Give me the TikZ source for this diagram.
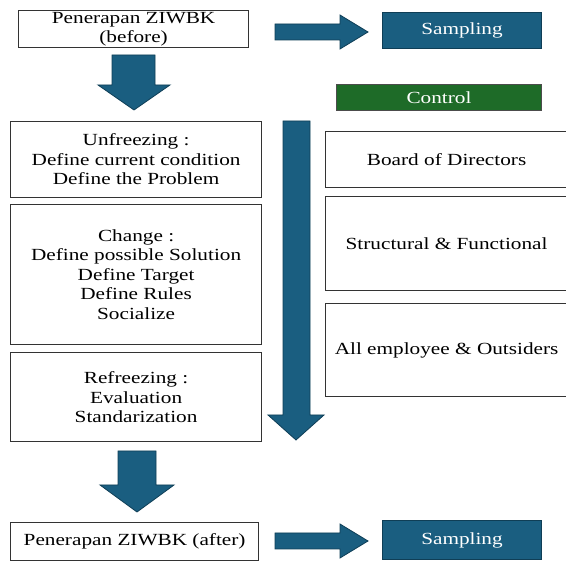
\documentclass[tikz,border=0pt]{standalone}
\usepackage{fontspec}
\setmainfont[FakeStretch=1.25]{Liberation Serif}
\definecolor{arrblue}{HTML}{1A5E80}
\definecolor{arredge}{HTML}{0F3E56}
\definecolor{ctrlgreen}{HTML}{1E6B28}
\definecolor{boxedge}{HTML}{333333}
\tikzset{
  box/.style={draw=boxedge, line width=1.2pt, fill=white, anchor=north west, inner sep=0pt, align=center, font=\fontsize{17}{19.5}\selectfont},
  bluebox/.style={draw=arredge, line width=1pt, fill=arrblue, text=white, anchor=north west, inner sep=0pt, align=center, font=\fontsize{17}{19.5}\selectfont},
  greenbox/.style={draw=black!70, line width=1pt, fill=ctrlgreen, text=white, anchor=north west, inner sep=0pt, align=center, font=\fontsize{17}{19.5}\selectfont},
  blockarrow/.style={draw=arredge, line width=0.8pt, fill=arrblue, line join=miter}
}
\begin{document}
\begin{tikzpicture}[x=1pt, y=-1pt]
\useasboundingbox (0,0) rectangle (566,561);
% boxes
\node[box, minimum width=230pt, minimum height=37pt] (before) at (18,10) {Penerapan ZIWBK\\(before)};
\node[bluebox, minimum width=159pt, minimum height=36pt] (samp1) at (382,12) {Sampling};
\node[greenbox, minimum width=205pt, minimum height=26pt] (ctrl) at (336,84) {Control};
\node[box, minimum width=251pt, minimum height=76pt] (unf) at (10,121) {Unfreezing :\\Define current condition\\Define the Problem};
\node[box, minimum width=251pt, minimum height=140pt] (chg) at (10,204) {Change :\\Define possible Solution\\Define Target\\Define Rules\\Socialize};
\node[box, minimum width=251pt, minimum height=89pt] (ref) at (10,352) {Refreezing :\\Evaluation\\Standarization};
\node[box, minimum width=242pt, minimum height=56pt] (bod) at (325,131) {Board of Directors};
\node[box, minimum width=242pt, minimum height=94pt] (sf) at (325,196) {Structural \& Functional};
\node[box, minimum width=242pt, minimum height=93pt] (all) at (325,303) {All employee \& Outsiders};
\node[box, minimum width=248pt, minimum height=38pt] (after) at (10,522) {Penerapan ZIWBK (after)};
\node[bluebox, minimum width=159pt, minimum height=39pt] (samp2) at (382,520) {Sampling};
% block arrows
\draw[blockarrow] (275,24) -- (340,24) -- (340,15) -- (368,32) -- (340,49) -- (340,40) -- (275,40) -- cycle;
\draw[blockarrow] (275,533) -- (340,533) -- (340,524) -- (368,541) -- (340,558) -- (340,549) -- (275,549) -- cycle;
\draw[blockarrow] (112,55) -- (155,55) -- (155,85) -- (170,85) -- (134,110) -- (98,85) -- (112,85) -- cycle;
\draw[blockarrow] (118,451) -- (156,451) -- (156,485) -- (174,485) -- (137,512) -- (100,485) -- (118,485) -- cycle;
\draw[blockarrow] (283,121) -- (310,121) -- (310,415) -- (324,415) -- (296,440) -- (268,415) -- (283,415) -- cycle;
\end{tikzpicture}
\end{document}
